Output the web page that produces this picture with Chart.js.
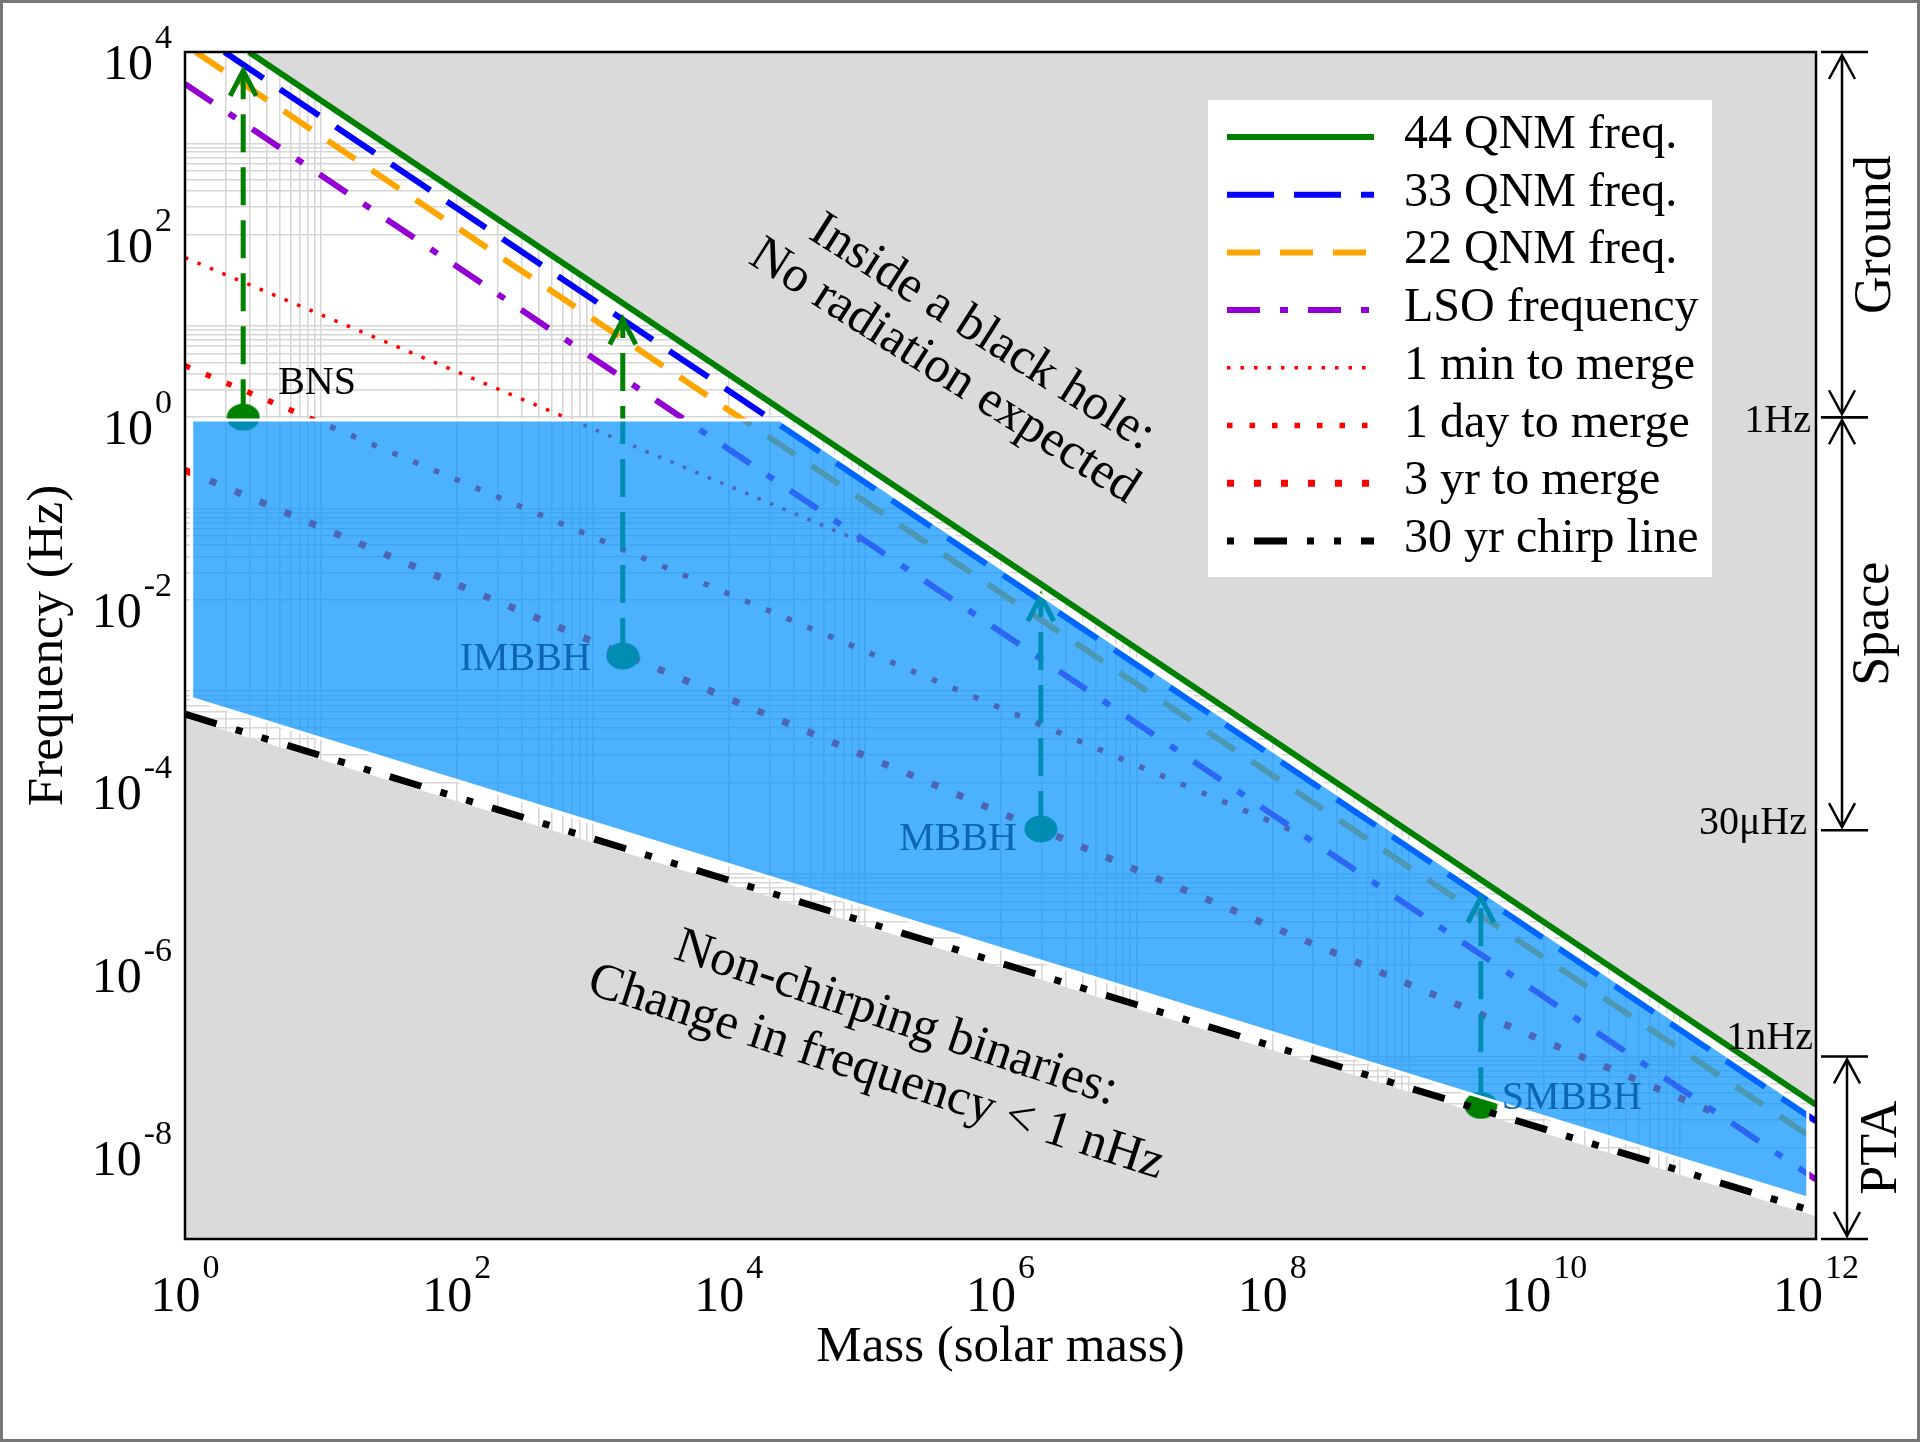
<!DOCTYPE html>
<html>
<head>
<meta charset="utf-8">
<script src="https://cdn.jsdelivr.net/npm/chart.js@4.4.1/dist/chart.umd.min.js"></script>
<style>
html,body{margin:0;padding:0;background:#fff;}
canvas{display:block;}
</style>
</head>
<body>
<canvas id="c" width="1920" height="1442"></canvas>
<script>
// ---------------- data ----------------
const massRange = [1, 1e12];              // solar masses (x axis)
const freqRange = [1e-9, 1e4];            // Hz (y axis)
const xTickDecades = [0, 2, 4, 6, 8, 10, 12];
const yTickDecades = [4, 2, 0, -2, -4, -6, -8];

// straight lines in log-log space, end points
const qnm44     = [{x: 2.95, y: 1e4}, {x: 1e12, y: 2.95e-8}];
const qnm33     = [{x: 1.95, y: 1e4}, {x: 1e12, y: 1.95e-8}];
const qnm22     = [{x: 1.2,  y: 1e4}, {x: 1e12, y: 1.2e-8}];
const lsoFreq   = [{x: 1, y: 4470}, {x: 1e12, y: 4.47e-9}];
const merge1min = [{x: 1, y: 56},   {x: 1.17e5, y: 0.038}];
const merge1day = [{x: 1, y: 3.67}, {x: 1.69e8, y: 2.65e-5}];
const merge3yr  = [{x: 1, y: 0.263},{x: 1.9e11, y: 2.34e-8}];
const chirp30yr = [{x: 1, y: 5.6e-4}, {x: 1e12, y: 1.97e-9}];
const nonChirpEdge = [{x: 1, y: 5.05e-4}, {x: 1e12, y: 1.78e-9}];
// detectable (chirping) band, blue polygon
const chirpBand = [
  {x: 1.12, y: 0.933}, {x: 2.4e4, y: 0.933}, {x: 8.7e11, y: 2.57e-8},
  {x: 8.7e11, y: 2.8e-9}, {x: 1.12, y: 8.3e-4}, {x: 1.12, y: 0.933}
];
// sources
const sourceNames   = ['BNS', 'IMBBH', 'MBBH', 'SMBBH'];
const sourceMass    = [2.68, 1663, 1.98e6, 3.42e9];
const sourceFreq    = [1.0, 2.43e-3, 3.1e-5, 2.91e-8];
const sourceTipFreq = [6200, 11.8, 1.1e-2, 5.5e-6];
// detector bands on the right
const bandNames = ['Ground', 'Space', 'PTA'];
const bandHigh  = [1e4, 1, 1e-7];
const bandLow   = [1, 3e-5, 1e-9];
const edgeLabels = ['1Hz', '30\u03bcHz', '1nHz'];
const edgeFreqs  = [1, 3e-5, 1e-7];
const legendOrder = ['44 QNM freq.', '33 QNM freq.', '22 QNM freq.', 'LSO frequency',
                     '1 min to merge', '1 day to merge', '3 yr to merge', '30 yr chirp line'];

// ---------------- styles ----------------
const SERIF = '"Liberation Serif","Times New Roman",serif';
const GREEN = '#008000', BLUE = '#0000ff', ORANGE = '#ffa500', PURPLE = '#9400d3', RED = '#ff0000';
const GRAY = '#dadada';
const LABEL_BLUE = 'rgb(12,102,176)';

// grid: every decade plus minor lines in even decades
function gridValues(decades, range) {
  const v = [];
  decades.forEach(d => { for (let m = 1; m <= 10; m++) v.push(m * Math.pow(10, d)); });
  return v.filter(t => t >= range[0] * 0.999 && t <= range[1] * 1.001);
}
const xGrid = gridValues(xTickDecades, massRange);
const yGrid = gridValues(yTickDecades, freqRange);

// ellipse marker
const dotImg = document.createElement('canvas');
dotImg.width = 34; dotImg.height = 28;
(function(){ const c = dotImg.getContext('2d'); c.fillStyle = GREEN; c.beginPath();
  c.ellipse(17, 14, 16.5, 13.5, 0, 0, 2*Math.PI); c.fill(); })();

function lineDs(label, data, color, width, dash, order, extra) {
  return Object.assign({label, data, showLine: true, borderColor: color, borderWidth: width,
    borderDash: dash, pointRadius: 0, fill: false, order, borderCapStyle: 'butt'}, extra || {});
}

const datasets = [
  {label: 'gray top', data: qnm44, showLine: true, borderColor: 'rgba(0,0,0,0)', borderWidth: 1,
   pointRadius: 0, fill: 'end', backgroundColor: GRAY, order: 100},
  {label: 'gray bottom', data: nonChirpEdge, showLine: true, borderColor: 'rgba(0,0,0,0)', borderWidth: 1,
   pointRadius: 0, fill: 'start', backgroundColor: GRAY, order: 100},
  lineDs('1 min to merge', merge1min, RED, 3.5, [3.5, 10], 60),
  lineDs('1 day to merge', merge1day, RED, 5.5, [5.5, 17], 60),
  lineDs('3 yr to merge', merge3yr, RED, 7, [7, 20], 60),
  lineDs('LSO frequency', lsoFreq, PURPLE, 6, [33, 20, 8, 20], 59),
  lineDs('22 QNM freq.', qnm22, ORANGE, 6, [33, 20], 58),
  lineDs('33 QNM freq.', qnm33, BLUE, 6, [47, 20], 57),
];
sourceNames.forEach((n, i) => {
  datasets.push(lineDs(n + ' track',
    [{x: sourceMass[i], y: sourceFreq[i]}, {x: sourceMass[i], y: sourceTipFreq[i]}],
    GREEN, 5, [38, 15], 50));
});
const DOTS_INDEX = datasets.length;
datasets.push({label: 'sources', data: sourceNames.map((n, i) => ({x: sourceMass[i], y: sourceFreq[i]})),
  showLine: false, pointStyle: dotImg, pointRadius: 15, order: 45});
datasets.push({label: 'band', data: chirpBand, showLine: true, borderColor: '#ffffff', borderWidth: 3,
  pointRadius: 0, fill: 'shape', backgroundColor: 'rgba(0,145,255,0.7)', order: 40});
datasets.push(lineDs('30 yr chirp line', chirp30yr, '#000000', 7, [33, 20, 7, 20, 7, 20], 30,
  {legendDashOffset: 80}));
datasets.push(lineDs('44 QNM freq.', qnm44, GREEN, 6, [], 20));

function sup(ctx, x, yBase, yExp, base, exp, align) {
  ctx.font = '50px ' + SERIF; const w1 = ctx.measureText(base).width;
  ctx.font = '34px ' + SERIF; const w2 = ctx.measureText(exp).width;
  let x0;
  if (align === 'center') x0 = x - (w1 + 2 + w2) / 2; else x0 = x - (w1 + 2 + w2);
  ctx.textAlign = 'left'; ctx.textBaseline = 'alphabetic';
  ctx.font = '50px ' + SERIF; ctx.fillText(base, x0, yBase);
  ctx.font = '34px ' + SERIF; ctx.fillText(exp, x0 + w1 + 2, yExp);
}

const overlay = {
  id: 'overlay',
  beforeDraw(chart) {
    const ctx = chart.ctx; ctx.save(); ctx.fillStyle = '#fff';
    ctx.fillRect(0, 0, chart.width, chart.height); ctx.restore();
  },
  afterDatasetDraw(chart, args) {
    if (args.index !== DOTS_INDEX) return;
    const ctx = chart.ctx, xs = chart.scales.x, ys = chart.scales.y;
    ctx.save();
    ctx.strokeStyle = GREEN; ctx.lineWidth = 5; ctx.setLineDash([]); ctx.lineJoin = 'miter';
    sourceNames.forEach((n, i) => {
      const px = xs.getPixelForValue(sourceMass[i]);
      const py = ys.getPixelForValue(sourceTipFreq[i]);
      ctx.beginPath(); ctx.moveTo(px - 13, py + 25); ctx.lineTo(px, py); ctx.lineTo(px + 13, py + 25); ctx.stroke();
    });
    ctx.restore();
  },
  afterDraw(chart) {
    const ctx = chart.ctx, a = chart.chartArea, xs = chart.scales.x, ys = chart.scales.y;
    ctx.save();
    // plot frame
    ctx.strokeStyle = '#000'; ctx.lineWidth = 2.5; ctx.setLineDash([]);
    ctx.strokeRect(a.left, a.top, a.right - a.left, a.bottom - a.top);
    // tick labels
    ctx.fillStyle = '#000';
    xTickDecades.forEach(d => {
      const px = xs.getPixelForValue(Math.pow(10, d));
      sup(ctx, px, a.bottom + 72, a.bottom + 39, '10', String(d), 'center');
    });
    yTickDecades.forEach(d => {
      const py = ys.getPixelForValue(Math.pow(10, d));
      sup(ctx, a.left - 13, py + 27, py - 4, '10', String(d), 'right');
    });
    // axis titles
    ctx.font = '51px ' + SERIF; ctx.textAlign = 'center'; ctx.textBaseline = 'alphabetic';
    ctx.fillText('Mass (solar mass)', (a.left + a.right) / 2, a.bottom + 122);
    ctx.save(); ctx.translate(62, (a.top + a.bottom) / 2); ctx.rotate(-Math.PI / 2);
    ctx.fillText('Frequency (Hz)', 0, 0); ctx.restore();

    // region annotations
    ctx.font = '51px ' + SERIF; ctx.textAlign = 'center'; ctx.textBaseline = 'middle';
    const rot = (t, cx, cy, deg) => { ctx.save(); ctx.translate(cx, cy); ctx.rotate(deg * Math.PI / 180);
      ctx.fillText(t, 0, 0); ctx.restore(); };
    rot('Inside a black hole:', 982, 333, 32.5);
    rot('No radiation expected', 944, 372, 32.5);
    rot('Non-chirping binaries:', 896, 1019, 18.5);
    rot('Change in frequency < 1 nHz', 876, 1073, 18);

    // source labels
    ctx.textBaseline = 'alphabetic'; ctx.font = '40px ' + SERIF;
    const lab = [{dx: 35, dy: -23, al: 'left', c: '#000'}, {dx: -32, dy: 14, al: 'right', c: LABEL_BLUE},
                 {dx: -24, dy: 21, al: 'right', c: LABEL_BLUE}, {dx: 21, dy: 4, al: 'left', c: LABEL_BLUE}];
    sourceNames.forEach((n, i) => {
      const px = xs.getPixelForValue(sourceMass[i]), py = ys.getPixelForValue(sourceFreq[i]);
      ctx.fillStyle = lab[i].c; ctx.textAlign = lab[i].al;
      ctx.fillText(n, px + lab[i].dx, py + lab[i].dy);
    });

    // legend
    const lx = 1208, ly = 100;
    ctx.fillStyle = '#fff'; ctx.fillRect(lx, ly, 504, 477);
    legendOrder.forEach((name, i) => {
      const ds = chart.data.datasets.find(d => d.label === name);
      const y = ly + 37 + i * 57.7;
      ctx.strokeStyle = ds.borderColor; ctx.lineWidth = ds.borderWidth;
      ctx.setLineDash(ds.borderDash || []); ctx.lineDashOffset = ds.legendDashOffset || 0;
      ctx.lineCap = 'butt';
      ctx.beginPath(); ctx.moveTo(lx + 19, y); ctx.lineTo(lx + 166, y); ctx.stroke();
      ctx.setLineDash([]); ctx.lineDashOffset = 0;
      ctx.fillStyle = '#000'; ctx.font = '48px ' + SERIF; ctx.textAlign = 'left';
      ctx.fillText(name, lx + 196, y + 11);
    });

    // detector bands at right
    ctx.strokeStyle = '#000'; ctx.lineWidth = 2.5; ctx.fillStyle = '#000';
    const bx = [1842, 1842, 1847];
    const labX = [1890, 1888, 1896];
    bandNames.forEach((n, i) => {
      const yT = ys.getPixelForValue(bandHigh[i]), yB = ys.getPixelForValue(bandLow[i]);
      const x = bx[i];
      ctx.beginPath();
      ctx.moveTo(a.right + 5, yT); ctx.lineTo(a.right + 52, yT);
      ctx.moveTo(a.right + 5, yB); ctx.lineTo(a.right + 52, yB);
      ctx.moveTo(x, yT + 3); ctx.lineTo(x, yB - 3);
      ctx.moveTo(x - 13, yT + 27); ctx.lineTo(x, yT + 3); ctx.lineTo(x + 13, yT + 27);
      ctx.moveTo(x - 13, yB - 27); ctx.lineTo(x, yB - 3); ctx.lineTo(x + 13, yB - 27);
      ctx.stroke();
      ctx.save(); ctx.translate(labX[i], (yT + yB) / 2); ctx.rotate(-Math.PI / 2);
      ctx.font = '52px ' + SERIF; ctx.textAlign = 'center'; ctx.textBaseline = 'alphabetic';
      ctx.fillText(n, 0, 0); ctx.restore();
    });
    const edgeDy = [15, 4, -7], edgeRight = [1811, 1807, 1813];
    ctx.font = '40px ' + SERIF; ctx.textAlign = 'right'; ctx.textBaseline = 'alphabetic';
    edgeLabels.forEach((t, i) => {
      ctx.fillText(t, edgeRight[i], ys.getPixelForValue(edgeFreqs[i]) + edgeDy[i]);
    });

    // outer figure frame
    ctx.strokeStyle = '#777'; ctx.lineWidth = 3;
    ctx.strokeRect(1.5, 1.5, chart.width - 3, chart.height - 3);
    ctx.restore();
  }
};

new Chart(document.getElementById('c'), {
  type: 'scatter',
  data: {datasets},
  options: {
    responsive: false, animation: false, devicePixelRatio: 1, events: [],
    layout: {padding: {left: 185, top: 52, right: 104, bottom: 203}},
    plugins: {legend: {display: false}, tooltip: {enabled: false}},
    scales: {
      x: {type: 'logarithmic', min: massRange[0], max: massRange[1],
          ticks: {display: false}, border: {display: false},
          grid: {color: '#d6d6d6', lineWidth: 1.5, drawTicks: false},
          afterBuildTicks: s => { s.ticks = xGrid.map(v => ({value: v})); }},
      y: {type: 'logarithmic', min: freqRange[0], max: freqRange[1],
          ticks: {display: false}, border: {display: false},
          grid: {color: '#d6d6d6', lineWidth: 1.5, drawTicks: false},
          afterBuildTicks: s => { s.ticks = yGrid.map(v => ({value: v})); }}
    }
  },
  plugins: [overlay]
});
</script>
</body>
</html>
